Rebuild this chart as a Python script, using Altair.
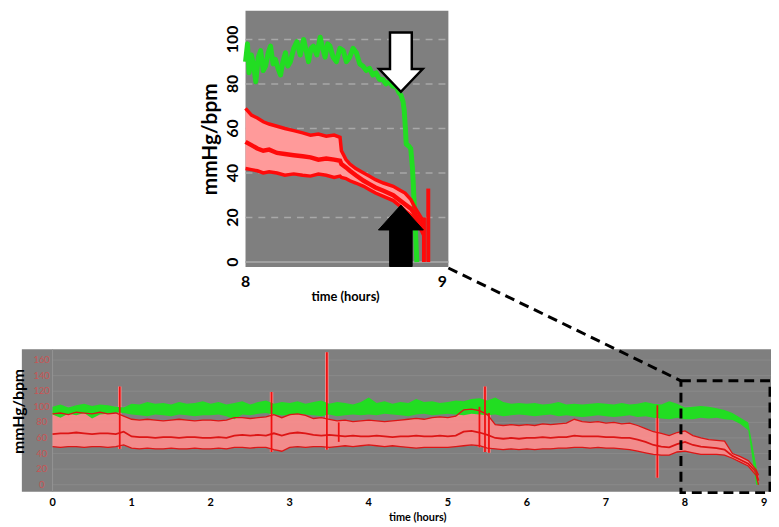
import altair as alt
import pandas as pd

# ---------------- bottom panel: whole recording (0-9 h) ----------------
hours = [round(0.1 * i, 1) for i in range(90)] + [8.93]
red_upper = [91, 92, 90, 93, 92, 91, 93, 91, 92, 88,
             84, 83, 84, 83, 82, 83, 84, 83, 82, 83,
             83, 82, 83, 86, 86, 85, 86, 87, 90, 86,
             90, 91, 89, 85, 86, 84, 82, 83, 81, 82,
             83, 82, 81, 82, 83, 84, 85, 84, 86, 87,
             86, 88, 96, 97, 95, 90, 77, 76, 77, 76,
             77, 76, 78, 77, 78, 79, 84, 81, 80, 81,
             79, 80, 78, 79, 76, 72, 68, 66, 63, 67,
             69, 63, 60, 58, 57, 56, 40, 36, 31, 19, 12]
red_mean = [65, 66, 66, 67, 66, 65, 66, 66, 65, 68,
            62, 61, 61, 60, 61, 61, 60, 61, 61, 60,
            60, 61, 60, 63, 64, 63, 64, 63, 66, 63,
            66, 67, 66, 64, 63, 64, 63, 62, 63, 62,
            62, 63, 62, 61, 62, 62, 63, 62, 62, 63,
            62, 63, 68, 69, 67, 64, 60, 59, 60, 59,
            60, 60, 61, 60, 61, 61, 63, 62, 62, 62,
            61, 61, 60, 60, 58, 55, 51, 49, 48, 52,
            55, 51, 49, 48, 47, 45, 37, 32, 27, 16, 5]
red_lower = [49, 48, 49, 49, 48, 49, 49, 48, 49, 51,
             47, 46, 47, 46, 46, 47, 46, 46, 47, 46,
             46, 47, 46, 48, 48, 47, 48, 48, 45, 43,
             48, 49, 48, 49, 49, 48, 49, 50, 49, 50,
             51, 50, 49, 50, 49, 48, 47, 48, 48, 48,
             48, 49, 50, 51, 50, 47, 46, 45, 46, 45,
             46, 45, 46, 46, 47, 47, 48, 48, 47, 48,
             47, 47, 46, 45, 43, 41, 39, 38, 38, 42,
             43, 41, 39, 39, 39, 38, 34, 29, 24, 12, 0]
green_hi = [100, 103, 99, 102, 104, 101, 103, 102, 100, 99,
            104, 103, 106, 104, 105, 103, 106, 104, 105, 107,
            104, 106, 103, 105, 107, 103, 106, 108, 104, 106,
            105, 107, 104, 106, 108, 104, 106, 105, 103, 106,
            112, 105, 107, 104, 106, 105, 110, 106, 107, 105,
            106, 108, 107, 110, 111, 108, 112, 106, 104, 105,
            104, 105, 103, 104, 106, 103, 104, 103, 104, 105,
            104, 103, 105, 103, 104, 106, 104, 103, 107, 104,
            99, 100, 101, 100, 98, 96, 92, 86, 80, 25, 0]
green_lo = [90, 86, 91, 89, 92, 85, 90, 91, 93, 92,
            90, 89, 88, 90, 89, 88, 90, 89, 88, 89,
            89, 90, 88, 84, 90, 89, 91, 92, 90, 89,
            89, 91, 90, 89, 88, 90, 88, 89, 90, 89,
            90, 89, 91, 90, 89, 88, 90, 91, 89, 90,
            91, 90, 89, 91, 90, 89, 90, 88, 89, 90,
            89, 88, 89, 90, 88, 89, 88, 87, 88, 89,
            88, 87, 88, 89, 87, 88, 86, 85, 84, 86,
            84, 84, 86, 85, 86, 84, 83, 78, 70, 0, 0]

# artefact spikes in the bottom panel
spike_t = [0.85, 2.77, 3.47, 3.62, 5.40, 5.47, 5.52, 7.65]
spike_lo = [46, 42, 45, 55, 48, 42, 41, 9]
spike_hi = [126, 119, 170, 80, 100, 126, 92, 102]

bottom_yticks = [0, 20, 40, 60, 80, 100, 120, 140, 160]
bottom_xticks = [0, 1, 2, 3, 4, 5, 6, 7, 8, 9]

# ---------------- top panel: zoom on the last hour (8-9 h) ----------------
top_red_t = [8.0, 8.03, 8.06, 8.09, 8.12, 8.16, 8.2, 8.245, 8.29, 8.33, 8.37,
             8.41, 8.45, 8.48, 8.487, 8.51, 8.53, 8.56, 8.6, 8.63, 8.66, 8.7,
             8.75, 8.78, 8.81, 8.84, 8.86, 8.885, 8.905]
top_upper = [69, 66, 64.7, 63, 62, 61, 60, 59, 58, 57, 57.5, 56.5, 57, 56, 50,
             46, 44, 42, 40, 38.5, 37, 35.5, 34, 32.5, 31, 28, 24.5, 21, 18]
top_mean = [54, 52.5, 51, 50, 50.5, 49, 48.5, 48, 47.5, 47, 46, 46.5, 46, 45.5,
            44, 42.5, 41, 39, 36.5, 35, 33.5, 32, 30, 28, 26, 24, 21.6, 18, 15]
top_lower = [42, 41.5, 41, 40, 40.5, 40, 39, 39.6, 39, 38.6, 39.5, 39, 38, 38.6,
             38, 37.5, 36.5, 35.5, 34, 32.5, 31, 29.5, 27.6, 25.5, 23, 21, 18.7,
             15.5, 12]
top_green_t = [8.0, 8.01, 8.018, 8.03, 8.042, 8.052, 8.065, 8.077, 8.09, 8.102,
               8.115, 8.127, 8.14, 8.152, 8.165, 8.178, 8.19, 8.203, 8.215,
               8.228, 8.245, 8.261, 8.278, 8.295, 8.308, 8.32, 8.333, 8.345,
               8.362, 8.379, 8.392, 8.404, 8.417, 8.429, 8.445, 8.462, 8.479,
               8.496, 8.512, 8.529, 8.546, 8.563, 8.58, 8.596, 8.613, 8.63,
               8.646, 8.663, 8.68, 8.697, 8.713, 8.73, 8.747, 8.764, 8.78,
               8.789, 8.8, 8.806, 8.812, 8.816, 8.83, 8.839, 8.845, 8.848,
               8.852, 8.856, 8.864, 8.87]
top_green_v = [90, 98, 85, 93, 88, 81, 92, 95, 86, 88,
               94, 97, 89, 91, 87, 84, 90, 94, 88,
               90, 96, 99, 93, 100, 95, 90, 96, 97,
               93, 101, 96, 92, 98, 97, 92, 90, 96,
               95, 90, 92, 96, 94, 89, 88, 86, 87,
               84, 85, 82, 82, 80, 81, 79, 79, 76,
               75, 72, 68, 60, 53, 52, 51, 45, 42,
               35, 27, 12, 0]
top_spike_t = [8.906, 8.928]
top_spike_lo = [0, 0]
top_spike_hi = [20, 33]

top_yticks = [0, 20, 40, 60, 80, 100]
top_grid = [20, 40, 60, 80, 100]
top_xticks = [8, 9]

# ---------------- tables ----------------
bottom_df = pd.DataFrame({"t": hours, "up": red_upper, "mean": red_mean,
                          "lo": red_lower, "ghi": green_hi, "glo": green_lo})
spike_df = pd.DataFrame({"t": spike_t, "lo": spike_lo, "hi": spike_hi})
top_df = pd.DataFrame({"t": top_red_t, "up": top_upper, "mean": top_mean, "lo": top_lower})
green_df = pd.DataFrame({"t": top_green_t, "v": top_green_v})
tspike_df = pd.DataFrame({"t": top_spike_t, "lo": top_spike_lo, "hi": top_spike_hi})
byt_df = pd.DataFrame({"v": bottom_yticks, "label": [str(v) for v in bottom_yticks]})
bxt_df = pd.DataFrame({"t": bottom_xticks, "label": [str(v) for v in bottom_xticks]})
tyt_df = pd.DataFrame({"v": top_yticks, "label": [str(v) for v in top_yticks]})
tgrid_df = pd.DataFrame({"v": top_grid})
txt_df = pd.DataFrame({"t": top_xticks, "label": [str(v) for v in top_xticks]})
one = pd.DataFrame({"k": [0]})

# ---------------- scales (pixel ranges place the two panels) ----------------
BX = alt.Scale(domain=[0, 9], range=[45, 764], nice=False, zero=False)
BY = alt.Scale(domain=[0, 160], range=[479, 353], nice=False, zero=False)
TX = alt.Scale(domain=[8, 9], range=[240, 439], nice=False, zero=False)
TY = alt.Scale(domain=[0, 100], range=[254, 29], nice=False, zero=False)


def qx(f, s):
    return alt.X(f"{f}:Q", scale=s, axis=None)


def qy(f, s):
    return alt.Y(f"{f}:Q", scale=s, axis=None)


FONT = "Lato"
GRAY = "#7f7f7f"
PINK = "#f98c8c"
RED = "#ee1111"
GREEN = "#22dd22"

layers = []

# ---- bottom panel ----
layers.append(alt.Chart(one).mark_rect(color=GRAY).encode(
    x=alt.value(14), x2=alt.value(771), y=alt.value(342), y2=alt.value(486)))
layers.append(alt.Chart(byt_df).mark_rule(color="#8a8a8a", strokeWidth=1).encode(
    y=qy("v", BY), x=alt.value(45), x2=alt.value(771)))
layers.append(alt.Chart(one).mark_rule(color="#939393", strokeWidth=1).encode(
    x=alt.value(45), y=alt.value(342), y2=alt.value(486)))
layers.append(alt.Chart(bottom_df).mark_area(color=PINK, opacity=0.95).encode(
    x=qx("t", BX), y=qy("lo", BY), y2="up:Q"))
layers.append(alt.Chart(spike_df).mark_rule(color=PINK, strokeWidth=3.5).encode(
    x=qx("t", BX), y=qy("lo", BY), y2="hi:Q"))
layers.append(alt.Chart(bottom_df).mark_area(color=GREEN).encode(
    x=qx("t", BX), y=qy("glo", BY), y2="ghi:Q"))
for f, w in (("up", 1.3), ("lo", 1.3), ("mean", 1.8)):
    layers.append(alt.Chart(bottom_df).mark_line(color="#dd1515", strokeWidth=w).encode(
        x=qx("t", BX), y=qy(f, BY)))
layers.append(alt.Chart(spike_df).mark_rule(color=RED, strokeWidth=1.8).encode(
    x=qx("t", BX), y=qy("lo", BY), y2="hi:Q"))
layers.append(alt.Chart(byt_df).mark_text(color="#c85454", fontSize=9.5, font=FONT,
                                          align="center", baseline="middle").encode(
    y=qy("v", BY), x=alt.value(34), text="label:N"))
layers.append(alt.Chart(bxt_df).mark_text(color="black", fontSize=11, font=FONT,
                                          fontWeight="bold", baseline="middle").encode(
    x=qx("t", BX), y=alt.value(497), text="label:N"))
layers.append(alt.Chart(one).mark_text(text="time (hours)", color="black", fontSize=11,
                                       font=FONT, fontWeight="bold", baseline="middle").encode(
    x=alt.value(414), y=alt.value(513)))
layers.append(alt.Chart(one).mark_text(text="mmHg/bpm", color="black", fontSize=16,
                                       font=FONT, fontWeight="bold", angle=270,
                                       baseline="middle").encode(
    x=alt.value(11), y=alt.value(405)))

# ---- top panel ----
layers.append(alt.Chart(one).mark_rect(color=GRAY).encode(
    x=alt.value(240), x2=alt.value(445), y=alt.value(0), y2=alt.value(259)))
layers.append(alt.Chart(tgrid_df).mark_rule(color="#a8a8a8", strokeWidth=1.5,
                                            strokeDash=[7, 6]).encode(
    y=qy("v", TY), x=alt.value(240), x2=alt.value(445)))
layers.append(alt.Chart(one).mark_rule(color="#a0a0a0", strokeWidth=2).encode(
    y=alt.value(254), x=alt.value(240), x2=alt.value(445)))
layers.append(alt.Chart(top_df).mark_area(color="#ff9a9a").encode(
    x=qx("t", TX), y=qy("lo", TY), y2="up:Q"))
layers.append(alt.Chart(green_df).mark_line(color=GREEN, strokeWidth=5,
                                            strokeJoin="round").encode(
    x=qx("t", TX), y=qy("v", TY)))
for f, w in (("up", 3.5), ("lo", 3.5), ("mean", 4.5)):
    layers.append(alt.Chart(top_df).mark_line(color="#ff0a0a", strokeWidth=w).encode(
        x=qx("t", TX), y=qy(f, TY)))
layers.append(alt.Chart(tspike_df).mark_rule(color="#ff0a0a", strokeWidth=4).encode(
    x=qx("t", TX), y=qy("lo", TY), y2="hi:Q"))

# arrows (annotations)
WHITE_ARROW = ("M -0.367 -1 L 0.367 -1 L 0.367 0.233 L 0.733 0.233 L 0 1 "
               "L -0.733 0.233 L -0.367 0.233 Z")
BLACK_ARROW = ("M 0 -1 L 0.733 -0.19 L 0.367 -0.19 L 0.367 1 L -0.367 1 "
               "L -0.367 -0.19 L -0.733 -0.19 Z")
layers.append(alt.Chart(one).mark_point(shape=WHITE_ARROW, size=3600, filled=True,
                                        fill="white", stroke="black", strokeWidth=2.5,
                                        opacity=1).encode(
    x=alt.X("datum_x:Q", scale=TX, axis=None), y=alt.Y("datum_y:Q", scale=TY, axis=None)
).transform_calculate(datum_x="8.789", datum_y="89.8"))
layers.append(alt.Chart(one).mark_point(shape=BLACK_ARROW, size=3844, filled=True,
                                        fill="black", stroke="black", strokeWidth=1,
                                        opacity=1).encode(
    x=alt.X("datum_x:Q", scale=TX, axis=None), y=alt.Y("datum_y:Q", scale=TY, axis=None)
).transform_calculate(datum_x="8.789", datum_y="11.8"))

layers.append(alt.Chart(tyt_df).mark_text(color="black", fontSize=16, font=FONT,
                                          fontWeight="bold", angle=270,
                                          align="center", baseline="middle").encode(
    y=qy("v", TY), x=alt.value(227), text="label:N"))
layers.append(alt.Chart(txt_df).mark_text(color="black", fontSize=16, font=FONT,
                                          fontWeight="bold", baseline="middle").encode(
    x=qx("t", TX), y=alt.value(274), text="label:N"))
layers.append(alt.Chart(one).mark_text(text="time (hours)", color="black", fontSize=13,
                                       font=FONT, fontWeight="bold", baseline="middle").encode(
    x=alt.value(341), y=alt.value(289)))
layers.append(alt.Chart(one).mark_text(text="mmHg/bpm", color="black", fontSize=21,
                                       font=FONT, fontWeight="bold", angle=270,
                                       baseline="middle").encode(
    x=alt.value(205), y=alt.value(130)))

# ---- zoom connector ----
layers.append(alt.Chart(one).mark_rule(color="black", strokeWidth=3,
                                       strokeDash=[10, 6]).encode(
    x=alt.value(445), y=alt.value(260), x2=alt.value(680), y2=alt.value(374)))
layers.append(alt.Chart(one).mark_rect(fillOpacity=0, stroke="black", strokeWidth=3,
                                       strokeDash=[10, 6]).encode(
    x=alt.value(680), x2=alt.value(770), y=alt.value(374), y2=alt.value(487)))

chart = alt.layer(*layers).resolve_scale(
    x="independent", y="independent"
).properties(
    width=771, height=519, padding=0,
    autosize=alt.AutoSizeParams(type="none"),
    background="white",
).configure_view(stroke=None)

chart.save("out.html", embed_options={"renderer": "svg", "actions": False})
